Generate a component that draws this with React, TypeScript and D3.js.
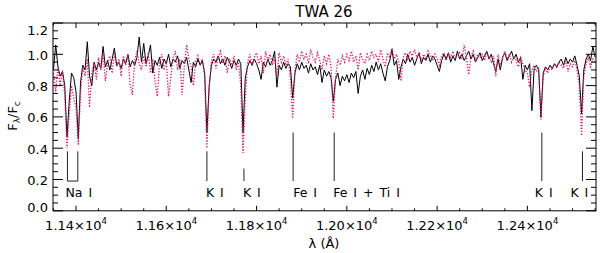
import React from "react";
import * as d3 from "d3";

// wavelength grid start/step (Å)
const waveStart = 11350;
const waveStep = 5;

// observed spectrum (black, solid)
const observed = [
  0.90, 1.06, 0.92, 0.86, 0.89, 0.80, 0.47, 0.70, 0.88, 0.85,
  0.76, 0.46, 0.82, 0.93, 0.90, 1.08, 0.86, 0.80, 0.95, 0.90,
  0.95, 0.91, 1.05, 0.92, 0.96, 0.90, 0.97, 1.04, 0.93, 0.95,
  0.91, 0.97, 0.94, 1.00, 0.92, 0.96, 0.93, 0.98, 1.11, 0.95,
  1.07, 0.94, 0.99, 1.06, 0.88, 0.96, 0.93, 0.98, 0.91, 0.97,
  0.94, 1.00, 0.92, 0.97, 0.95, 0.99, 0.91, 0.96, 0.94, 0.98,
  0.90, 0.82, 0.95, 0.92, 0.97, 0.93, 0.96, 0.88, 0.50, 0.80,
  0.93, 0.97, 0.95, 0.99, 0.94, 0.97, 0.93, 0.98, 0.95, 0.91,
  0.96, 0.93, 0.97, 0.94, 0.50, 0.85, 0.92, 0.96, 0.93, 0.97,
  0.94, 0.90, 0.84, 0.95, 0.92, 0.97, 0.93, 0.96, 1.02, 0.79,
  0.93, 0.90, 0.95, 0.91, 0.94, 0.92, 0.72, 0.88, 0.94, 0.90,
  0.95, 0.91, 0.93, 0.88, 0.94, 0.90, 0.92, 0.87, 0.93, 0.82,
  0.90, 0.86, 0.89, 0.85, 0.70, 0.84, 0.88, 0.80, 0.86, 0.83,
  0.87, 0.82, 0.88, 0.85, 0.89, 0.75, 0.86, 0.90, 0.84, 0.91,
  0.87, 0.93, 0.89, 0.95, 0.90, 0.94, 0.88, 0.83, 0.92, 0.96,
  1.03, 0.93, 0.96, 0.84, 0.92, 0.97, 0.94, 1.00, 0.95, 0.98,
  0.93, 0.97, 1.01, 0.94, 0.98, 0.96, 1.00, 0.95, 0.99, 0.97,
  0.93, 0.89, 0.96, 1.00, 0.97, 1.01, 0.95, 0.99, 0.96, 1.02,
  0.97, 1.00, 0.96, 0.99, 1.02, 0.97, 1.00, 0.95, 0.98, 1.01,
  0.96, 0.99, 1.02, 0.97, 1.00, 0.94, 0.89, 0.97, 0.90, 0.98,
  1.01, 0.96, 0.99, 1.02, 0.97, 1.00, 0.95, 0.98, 0.84, 0.93,
  0.90, 0.94, 0.64, 0.91, 0.93, 0.90, 0.60, 0.88, 0.92, 0.90,
  0.93, 0.91, 0.94, 0.92, 0.95, 0.97, 0.93, 0.98, 0.94, 0.97,
  0.95, 0.99, 0.93, 0.86, 0.62, 0.90, 0.97, 1.00, 0.96, 1.05,
  0.98,
];

// model spectrum (red, dotted)
const model = [
  0.88, 0.76, 0.92, 0.80, 0.90, 0.74, 0.40, 0.62, 0.80, 0.72,
  0.66, 0.42, 0.75, 0.92, 0.86, 0.97, 0.66, 0.88, 0.95, 0.84,
  0.98, 0.90, 1.00, 0.83, 0.95, 0.99, 0.88, 1.01, 0.92, 0.97,
  0.86, 0.99, 0.93, 1.00, 0.80, 0.74, 0.96, 1.02, 0.94, 0.90,
  0.99, 0.92, 1.01, 0.88, 0.97, 0.83, 0.73, 0.95, 1.00, 0.90,
  0.96, 0.73, 0.85, 0.98, 1.02, 0.90, 0.97, 0.74, 0.93, 1.06,
  0.97, 0.92, 0.80, 0.95, 0.99, 0.93, 0.97, 0.86, 0.40, 0.78,
  0.96, 1.00, 0.91, 0.98, 1.02, 0.94, 0.99, 0.88, 0.97, 0.93,
  0.99, 0.90, 0.95, 0.80, 0.37, 0.72, 0.95, 1.00, 0.93, 0.98,
  1.01, 0.94, 0.99, 0.88, 1.02, 0.96, 1.00, 0.93, 0.98, 0.86,
  1.01, 0.95, 0.99, 0.93, 0.97, 0.84, 0.59, 0.90, 1.00, 0.95,
  1.02, 0.97, 1.00, 0.94, 1.03, 0.98, 0.95, 1.01, 0.96, 0.90,
  0.99, 0.94, 1.00, 0.92, 0.59, 0.85, 0.97, 0.93, 0.99, 0.95,
  1.00, 0.96, 1.02, 0.95, 0.99, 0.90, 1.01, 0.97, 0.94, 1.00,
  0.96, 1.02, 0.98, 1.00, 0.95, 1.03, 0.97, 0.92, 1.01, 0.98,
  1.04, 0.97, 1.00, 0.95, 0.83, 0.98, 1.01, 0.96, 1.02, 0.99,
  1.03, 0.98, 1.01, 0.96, 1.00, 0.97, 1.02, 0.99, 0.96, 1.00,
  0.97, 0.93, 0.99, 1.01, 0.96, 1.00, 0.98, 1.02, 0.97, 0.99,
  1.01, 0.97, 1.06, 0.98, 0.87, 0.99, 1.02, 0.96, 1.00, 0.98,
  1.00, 0.96, 1.01, 0.98, 0.95, 0.99, 0.86, 1.00, 0.93, 0.97,
  1.02, 0.97, 1.00, 0.95, 0.99, 0.96, 0.92, 0.98, 0.94, 0.90,
  0.88, 0.79, 0.90, 0.93, 0.89, 0.92, 0.58, 0.86, 0.91, 0.88,
  0.92, 0.90, 0.94, 0.91, 0.95, 0.93, 0.91, 0.96, 0.89, 0.94,
  0.92, 0.96, 0.90, 0.80, 0.48, 0.86, 0.94, 0.98, 0.92, 0.97,
  0.95,
];

// x ticks (Å) and y ticks
const xMajorTicks = [11400, 11600, 11800, 12000, 12200, 12400];
const yMajorTicks = [0.0, 0.2, 0.4, 0.6, 0.8, 1.0, 1.2];

// line identifications
const lineLabels = ["Na I", "K I", "K I", "Fe I", "Fe I + Ti I", "K I", "K I"];
const lineWaves = [[11381, 11404], [11690], [11772], [11881], [11972], [12432], [12522]];
const lineTops = [0.38, 0.38, 0.27, 0.5, 0.5, 0.5, 0.38];
const lineBottom = 0.19;

const W = 600;
const H = 253;
const M = { left: 53, right: 596, top: 23, bottom: 210.8 };
const labelShift = [-2, -1, -1, 0, -1, -7, -12];

export default function App() {
  const x = d3.scaleLinear().domain([11349, 12552]).range([M.left, M.right]);
  const y = d3.scaleLinear().domain([0, 1.2]).range([M.bottom, M.top]);

  const obsPts = observed.map((v, i) => [waveStart + i * waveStep, v] as [number, number]);
  const modPts = model.map((v, i) => [waveStart + i * waveStep, v] as [number, number]);
  const line = d3.line<[number, number]>().x((d) => x(d[0])).y((d) => y(d[1]));

  const xMinor = d3.range(11350, 12551, 50);
  const yMinor = d3.range(0, 1.2001, 0.05);

  const font = "DejaVu Sans, Verdana, sans-serif";
  const lab = (v: number) => Math.min(207, Math.max(30, y(v) + 1));

  return (
    <svg width={W} height={H} style={{ position: "absolute", left: 0, top: 0 }} fontFamily={font}>
      <rect width={W} height={H} fill="#fff" />
      <defs>
        <clipPath id="plotclip">
          <rect x={M.left} y={M.top} width={M.right - M.left} height={M.bottom - M.top} />
        </clipPath>
      </defs>

      <g clipPath="url(#plotclip)">
        <path d={line(obsPts) || ""} fill="none" stroke="#000" strokeWidth={1} strokeLinejoin="round" />
        <path d={line(modPts) || ""} fill="none" stroke="#e3195d" strokeWidth={1.3} strokeDasharray="1.3,1.6" />
      </g>

      {/* line identification markers */}
      {lineWaves.map((ws, i) => (
        <g key={i} stroke="#222" strokeWidth={1} fill="none">
          {ws.map((w, j) => (
            <line key={j} x1={x(w)} x2={x(w)} y1={y(lineTops[i])} y2={y(lineBottom)} />
          ))}
          {ws.length > 1 && (
            <line x1={x(ws[0])} x2={x(ws[ws.length - 1])} y1={y(lineBottom)} y2={y(lineBottom)} />
          )}
        </g>
      ))}
      {lineLabels.map((t, i) => (
        <text key={i} x={x(lineWaves[i][0]) + labelShift[i]} y={197} fontSize={12.5} wordSpacing={2} fill="#000" style={{ whiteSpace: "pre" }}>
          {t}
        </text>
      ))}

      {/* axes box */}
      <rect x={M.left} y={M.top} width={M.right - M.left} height={M.bottom - M.top} fill="none" stroke="#000" strokeWidth={1} />

      {/* x ticks */}
      {xMinor.map((t) => {
        const major = xMajorTicks.includes(t);
        const len = major ? 5 : 2.5;
        return (
          <g key={t} stroke="#000" strokeWidth={1}>
            <line x1={x(t)} x2={x(t)} y1={M.bottom} y2={M.bottom - len} />
            <line x1={x(t)} x2={x(t)} y1={M.top} y2={M.top + len} />
          </g>
        );
      })}
      {xMajorTicks.map((t) => (
        <text key={t} x={x(t)} y={230} fontSize={13} textAnchor="middle" fill="#000">
          {(t / 1e4).toFixed(2)}×10
          <tspan fontSize={8.5} dy={-6}>4</tspan>
        </text>
      ))}

      {/* y ticks */}
      {yMinor.map((t, i) => {
        const major = i % 4 === 0;
        const len = major ? 10 : 5;
        return (
          <g key={i} stroke="#000" strokeWidth={1}>
            <line x1={M.left} x2={M.left + len} y1={y(t)} y2={y(t)} />
            <line x1={M.right} x2={M.right - len} y1={y(t)} y2={y(t)} />
          </g>
        );
      })}
      {yMajorTicks.map((t) => (
        <text key={t} x={48} y={lab(t)} fontSize={13} textAnchor="end" dominantBaseline="central" fill="#000">
          {t.toFixed(1)}
        </text>
      ))}

      {/* titles */}
      <text x={324} y={17} fontSize={15} textAnchor="middle" fill="#000">TWA 26</text>
      <text x={324} y={248} fontSize={13} textAnchor="middle" fill="#000">λ (Å)</text>
      <text transform="translate(17,116) rotate(-90)" fontSize={13} textAnchor="middle" fill="#000">
        F<tspan fontSize={9} dy={3}>λ</tspan>
        <tspan dy={-3}>/F</tspan>
        <tspan fontSize={9} dy={3}>c</tspan>
      </text>
    </svg>
  );
}
